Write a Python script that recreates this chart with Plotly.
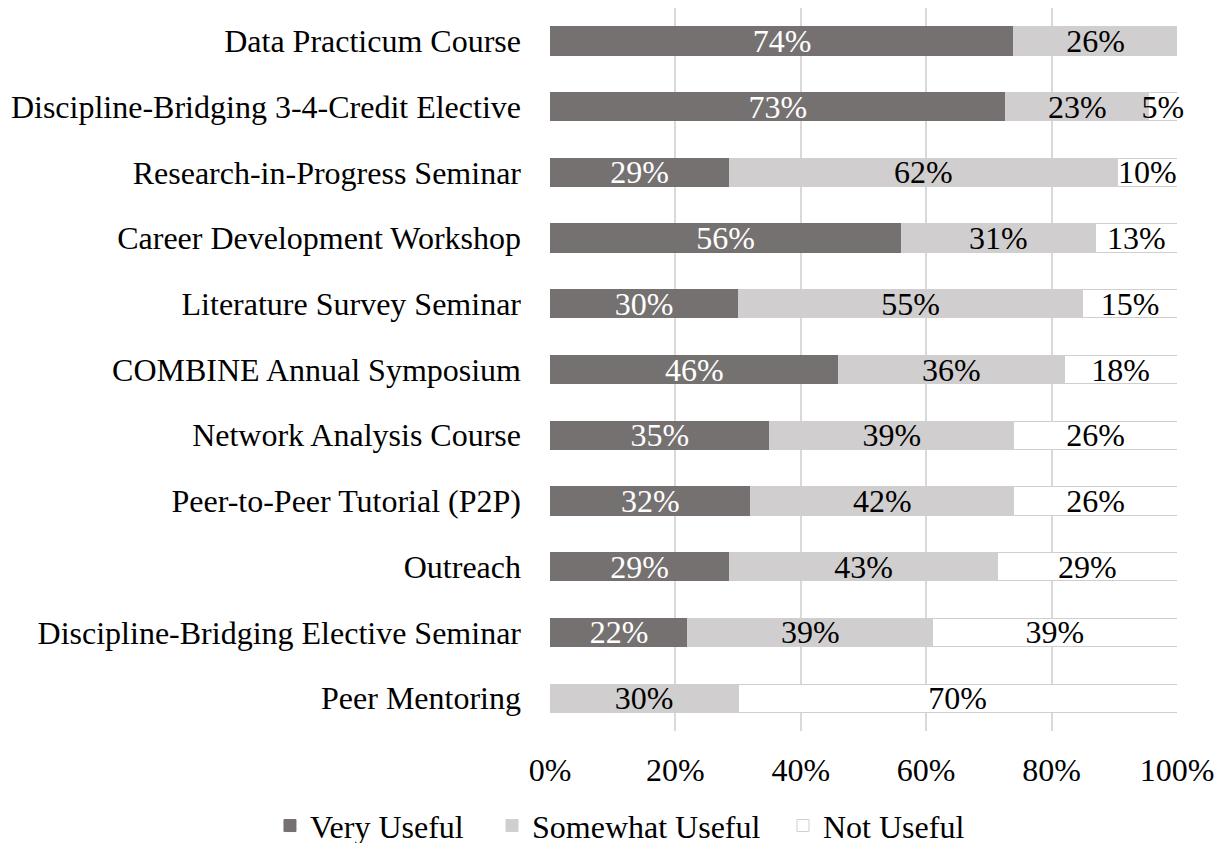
import plotly.graph_objects as go

categories = [
    "Data Practicum Course",
    "Discipline-Bridging 3-4-Credit Elective",
    "Research-in-Progress Seminar",
    "Career Development Workshop",
    "Literature Survey Seminar",
    "COMBINE Annual Symposium",
    "Network Analysis Course",
    "Peer-to-Peer Tutorial (P2P)",
    "Outreach",
    "Discipline-Bridging Elective Seminar",
    "Peer Mentoring",
]
very_useful = [74, 72.7, 28.6, 56, 30, 46, 35, 32, 28.6, 22, 0]
somewhat_useful = [26, 22.8, 61.9, 31, 55, 36, 39, 42, 42.8, 39, 30]
not_useful = [0, 4.5, 9.5, 13, 15, 18, 26, 26, 28.6, 39, 70]
tick_vals = [0, 20, 40, 60, 80, 100]
tick_text = ["0%", "20%", "40%", "60%", "80%", "100%"]

FONT = "Liberation Serif, Times New Roman, serif"
FS = 32

def labels(vals):
    return [f"{int(v + 0.5)}%" if v > 0 else "" for v in vals]

fig = go.Figure()
series = [
    ("Very Useful", very_useful, "#767171", "white", "#767171", "legend"),
    ("Somewhat Useful", somewhat_useful, "#d0cece", "black", "#d0cece", "legend2"),
    ("Not Useful", not_useful, "#ffffff", "black", "#d0cece", "legend3"),
]
for name, vals, color, tcolor, lcolor, leg in series:
    fig.add_trace(go.Bar(
        name=name, y=categories, x=vals, orientation="h",
        marker=dict(color=color, line=dict(color=lcolor, width=1)),
        text=labels(vals), textposition="inside", insidetextanchor="middle",
        constraintext="none", cliponaxis=False, textangle=0,
        textfont=dict(family=FONT, size=FS, color=tcolor),
        hoverinfo="skip", legend=leg,
    ))

leg_common = dict(orientation="h", xref="paper", yref="paper",
                  xanchor="left", y=-0.093, yanchor="top",
                  font=dict(family=FONT, size=FS, color="black"),
                  itemwidth=30, bgcolor="rgba(0,0,0,0)")

fig.update_layout(
    barmode="stack",
    bargap=0.57,
    width=1232, height=843,
    margin=dict(l=542, r=63, t=0, b=120, autoexpand=False),
    paper_bgcolor="white", plot_bgcolor="white",
    font=dict(family=FONT, size=FS, color="black"),
    showlegend=True,
    legend=dict(x=-0.4466, **leg_common),
    legend2=dict(x=-0.0925, **leg_common),
    legend3=dict(x=0.3716, **leg_common),
    uniformtext=dict(mode=False),
)
fig.update_xaxes(range=[0, 100], tickvals=tick_vals, ticktext=tick_text,
                 showgrid=True, gridcolor="#d9d9d9", gridwidth=1.5,
                 zeroline=False, showline=False, ticks="",
                 ticklabelstandoff=17,
                 tickfont=dict(family=FONT, size=FS, color="black"))
fig.update_yaxes(categoryorder="array", categoryarray=categories[::-1],
                 autorange=True, showgrid=False, showline=False, ticks="",
                 ticklabelstandoff=28,
                 tickfont=dict(family=FONT, size=FS, color="black"))

fig.write_html("out.html")
